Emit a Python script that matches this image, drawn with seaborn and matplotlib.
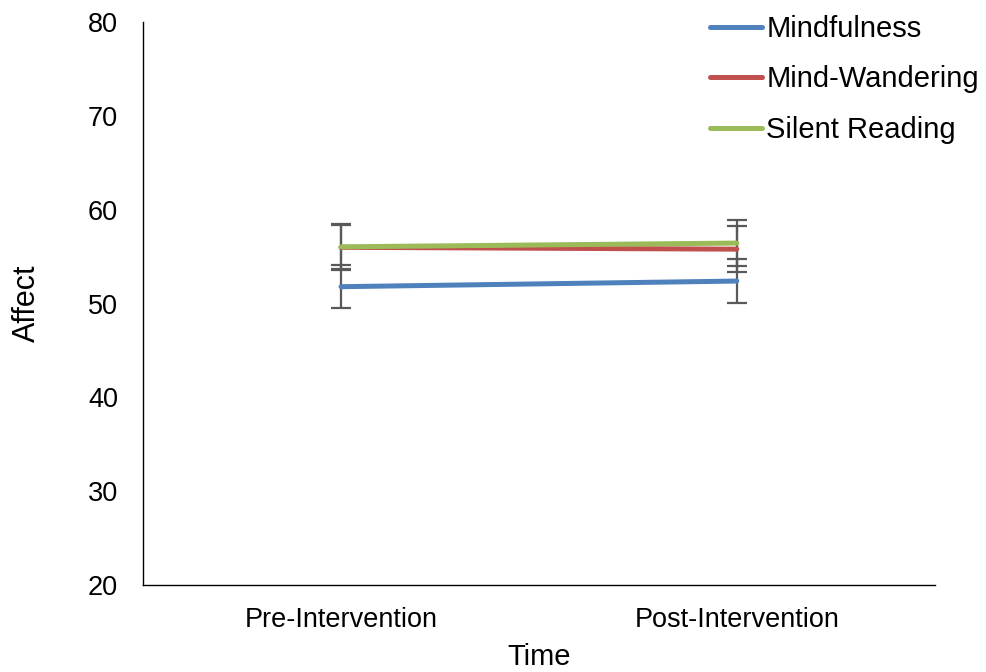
import matplotlib
matplotlib.use("Agg")
import matplotlib.pyplot as plt
import seaborn as sns
import pandas as pd

# Mean affect per group at each time point, with error bar half-widths
times = ["Pre-Intervention", "Post-Intervention"]
groups = ["Mindfulness", "Mind-Wandering", "Silent Reading"]
mindfulness = [51.8, 52.4]
mind_wandering = [56.0, 55.8]
silent_reading = [56.05, 56.45]
mindfulness_err = [2.3, 2.35]
mind_wandering_err = [2.4, 2.45]
silent_reading_err = [2.4, 2.45]
colors = ["#4F81BD", "#C0504D", "#9BBB59"]
yticks = [20, 30, 40, 50, 60, 70, 80]

means = [mindfulness, mind_wandering, silent_reading]
errs = [mindfulness_err, mind_wandering_err, silent_reading_err]

df = pd.DataFrame({
    "Time": times * 3,
    "Affect": [v for m in means for v in m],
    "Group": [g for g in groups for _ in times],
})

sns.set_theme(style="white")
plt.rcParams["font.family"] = ["Liberation Sans", "DejaVu Sans"]
plt.rcParams["text.color"] = "black"

fig = plt.figure(figsize=(9.87, 6.72), dpi=100)
ax = fig.add_axes([0.145, 0.1295, 0.802, 0.8375])

# Error bars drawn first so the lines sit on top
for m, e in zip(means, errs):
    ax.errorbar([0, 1], m, yerr=e, fmt="none", ecolor="#595959",
                elinewidth=1.6, capsize=7, capthick=1.6, zorder=1)

sns.lineplot(data=df, x="Time", y="Affect", hue="Group", hue_order=groups,
             palette=colors, linewidth=3.6, ax=ax, legend=True, zorder=3,
             solid_capstyle="round")

ax.set_xlim(-0.5, 1.5)
ax.set_ylim(20, 80)
ax.set_yticks(yticks)
ax.tick_params(axis="both", length=0, labelsize=19.5, colors="black")
ax.tick_params(axis="y", pad=18)
ax.tick_params(axis="x", pad=16)
ax.set_xlabel("Time", fontsize=21, labelpad=7, color="black")
ax.set_ylabel("Affect", fontsize=22, labelpad=33, color="black")
for side in ["top", "right"]:
    ax.spines[side].set_visible(False)
for side in ["left", "bottom"]:
    ax.spines[side].set_color("black")
    ax.spines[side].set_linewidth(1.0)

handles, labels = ax.get_legend_handles_labels()
ax.get_legend().remove()
for h in handles:
    h.set_linewidth(3.6)
    h.set_solid_capstyle("round")
fig.legend(handles, labels, loc="upper left", bbox_to_anchor=(0.713, 0.9866),
           frameon=False, fontsize=21, handlelength=1.8, handletextpad=0.14,
           labelspacing=0.77, borderpad=0.2, borderaxespad=0.0)

fig.savefig("out.png", dpi=100)
